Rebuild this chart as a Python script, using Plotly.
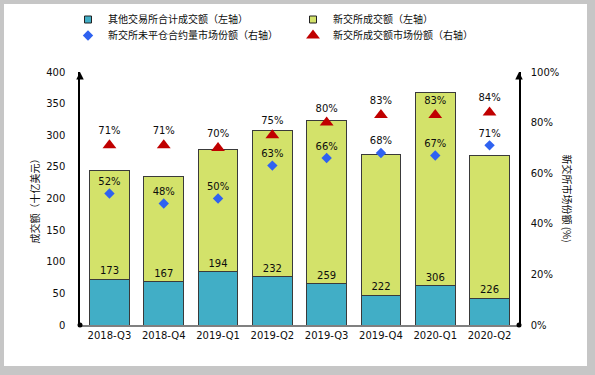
import plotly.graph_objects as go

quarters = ["2018-Q3", "2018-Q4", "2019-Q1", "2019-Q2", "2019-Q3", "2019-Q4", "2020-Q1", "2020-Q2"]
other_exchanges = [72, 68, 84, 76, 65, 47, 62, 42]
sgx_volume = [173, 167, 194, 232, 259, 222, 306, 226]
sgx_oi_share = [0.52, 0.48, 0.50, 0.63, 0.66, 0.68, 0.67, 0.71]
sgx_volume_share = [0.71, 0.71, 0.70, 0.75, 0.80, 0.83, 0.83, 0.84]

num_font = "DejaVu Sans"
cjk_font = "Noto Sans CJK SC"
txt_color = "#0d0d0d"
blue_bar = "#41AEC6"
green_bar = "#D3E26A"
edge = "#3a3a3a"

fig = go.Figure()
fig.add_trace(go.Bar(
    x=quarters, y=other_exchanges, name="其他交易所合计成交额（左轴）",
    marker=dict(color=blue_bar, line=dict(color=edge, width=1)),
    showlegend=False, hoverinfo="skip",
))
fig.add_trace(go.Bar(
    x=quarters, y=sgx_volume, name="新交所成交额（左轴）",
    marker=dict(color=green_bar, line=dict(color=edge, width=1)),
    text=[str(v) for v in sgx_volume], textposition="inside", insidetextanchor="start",
    textangle=0, constraintext="none",
    textfont=dict(family=num_font, size=10, color=txt_color),
    showlegend=False, hoverinfo="skip",
))
# legend swatches for the bar series (small squares as in the original)
fig.add_trace(go.Scatter(
    x=[None], y=[None], mode="markers", name="其他交易所合计成交额（左轴）",
    marker=dict(symbol="square", size=7, color=blue_bar, line=dict(color="#222222", width=1)),
    legend="legend",
))
fig.add_trace(go.Scatter(
    x=[None], y=[None], mode="markers", name="新交所成交额（左轴）",
    marker=dict(symbol="square", size=7, color=green_bar, line=dict(color="#222222", width=1)),
    legend="legend",
))
fig.add_trace(go.Scatter(
    x=quarters, y=sgx_oi_share, name="新交所未平仓合约量市场份额（右轴）", yaxis="y2",
    mode="markers+text", marker=dict(symbol="diamond", size=8, color="#2F62F0"),
    text=[f"{round(v*100)}%" for v in sgx_oi_share], textposition="top center",
    textfont=dict(family=num_font, size=10, color=txt_color),
    legend="legend2", hoverinfo="skip",
))
fig.add_trace(go.Scatter(
    x=quarters, y=sgx_volume_share, name="新交所成交额市场份额（右轴）", yaxis="y2",
    mode="markers+text", marker=dict(symbol="triangle-up", size=12, color="#C00000"),
    text=[f"{round(v*100)}%" for v in sgx_volume_share], textposition="top center",
    textfont=dict(family=num_font, size=10, color=txt_color),
    legend="legend2", hoverinfo="skip",
))

L, R, T, B = 80, 76, 72, 50
W, H = 595, 375
pw, ph = W - L - R, H - T - B
def px(x):
    return (x - L) / pw
def py(y):
    return (H - B - y) / ph

legend_common = dict(orientation="h", xanchor="left", yanchor="top",
                     entrywidth=180, entrywidthmode="pixels", bgcolor="rgba(0,0,0,0)",
                     font=dict(family=cjk_font, size=10, color=txt_color),
                     traceorder="normal", itemwidth=30, itemclick=False, itemdoubleclick=False)

fig.update_layout(
    width=W, height=H,
    margin=dict(l=L, r=R, t=T, b=B, autoexpand=False),
    barmode="stack", bargap=0.27,
    paper_bgcolor="#c6c6c6", plot_bgcolor="white",
    font=dict(family=num_font, size=10, color=txt_color),
    xaxis=dict(showline=True, linecolor="#808080", linewidth=1.5, ticks="",
               tickfont=dict(family=num_font, size=10, color=txt_color)),
    yaxis=dict(range=[0, 400], dtick=50, showgrid=False, zeroline=False,
               showline=True, linecolor="black", linewidth=1.5, ticks="",
               ticklabelstandoff=11,
               tickfont=dict(family=num_font, size=10, color=txt_color)),
    yaxis2=dict(range=[0, 1], dtick=0.2, tickformat=".0%", overlaying="y", side="right",
                showgrid=False, zeroline=False, showline=True, linecolor="black",
                linewidth=1.5, ticks="", ticklabelstandoff=8,
                tickfont=dict(family=num_font, size=10, color=txt_color)),
    legend=dict(x=px(68), y=py(5), **legend_common),
    legend2=dict(x=px(68), y=py(21), **legend_common),
    shapes=[
        dict(type="rect", xref="paper", yref="paper", x0=px(4), x1=px(587), y0=py(366), y1=py(4),
             fillcolor="white", line=dict(width=0), layer="below"),
        dict(type="circle", xref="paper", yref="paper", xsizemode="pixel", ysizemode="pixel",
             xanchor=0, yanchor=0, x0=-2.5, x1=2.5, y0=-2.5, y1=2.5,
             fillcolor="black", line=dict(width=0)),
        dict(type="circle", xref="paper", yref="paper", xsizemode="pixel", ysizemode="pixel",
             xanchor=1, yanchor=0, x0=-2.5, x1=2.5, y0=-2.5, y1=2.5,
             fillcolor="black", line=dict(width=0)),
    ],
    annotations=[
        dict(xref="paper", yref="paper", x=0, y=1.0, ax=0, ay=8, showarrow=True,
             arrowhead=2, arrowsize=1, arrowwidth=1.5, arrowcolor="black", text=""),
        dict(xref="paper", yref="paper", x=1, y=1.0, ax=0, ay=8, showarrow=True,
             arrowhead=2, arrowsize=1, arrowwidth=1.5, arrowcolor="black", text=""),
        dict(xref="paper", yref="paper", x=px(34), y=0.5, xanchor="center", yanchor="middle",
             text="成交额（十亿美元）", textangle=-90, showarrow=False,
             font=dict(family=cjk_font, size=10, color=txt_color)),
        dict(xref="paper", yref="paper", x=px(567), y=0.5, xanchor="center", yanchor="middle",
             text="新交所市场份额 (%)", textangle=90, showarrow=False,
             font=dict(family=cjk_font, size=10, color=txt_color)),
    ],
)

fig.write_html("out.html", config={"displayModeBar": False},
               post_script="document.body.style.margin='0';")
